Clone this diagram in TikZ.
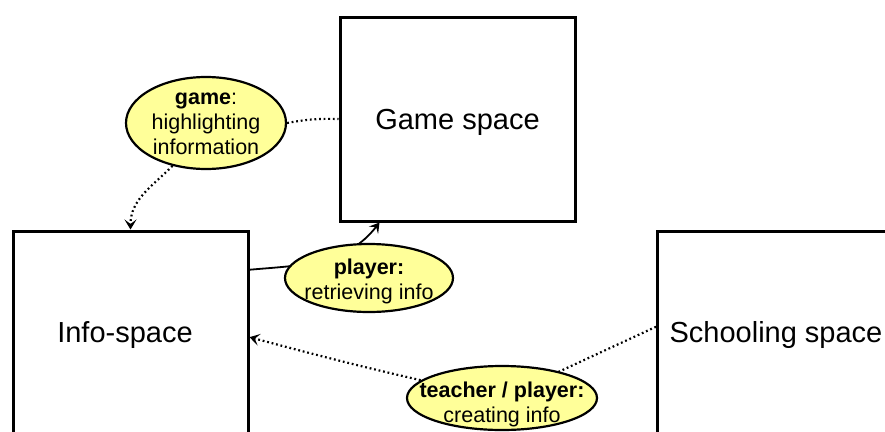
\documentclass[tikz,border=0pt]{standalone}
\usepackage{fontspec}
\setmainfont{Liberation Sans}
\usetikzlibrary{shapes.geometric,arrows.meta}
\definecolor{notefill}{HTML}{FFFF99}
\pgfdeclarelayer{background}
\pgfsetlayers{background,main}
\begin{document}
\begin{tikzpicture}[x=1pt,y=1pt,
  space/.style={draw, line width=3pt, minimum width=235pt, minimum height=204pt,
    inner sep=0pt, font=\fontsize{29}{34}\selectfont},
  spacetext/.style={inner sep=0pt, font=\fontsize{29}{34}\selectfont},
  note/.style={ellipse, draw, line width=2.2pt, fill=notefill, inner sep=0pt},
  notetext/.style={align=center, inner sep=0pt, font=\fontsize{21.5}{25}\selectfont},
  dots/.style={line width=2.2pt, dash pattern=on 1.8pt off 2.8pt},
  link/.style={line width=1.8pt},
  tip/.style={-{Stealth[length=10pt,width=12pt,inset=4.5pt]}}]
\useasboundingbox (0,0) rectangle (885,-431);
\clip (0,0) rectangle (885,-431);

% the three spaces
\node[space] (gs)   at (457.5,-119) {};
\node[spacetext] (gst) at (457.5,-122) {Game space};
\node[space] (info) at (130.5,-333) {};
\node[spacetext] (infot) at (125,-335) {Info-space};
\node[space] (sch)  at (775,-333)   {};
\node[spacetext] (scht) at (776,-335) {Schooling space};

% ellipses with their captions
\node[note, minimum width=160pt, minimum height=92pt] (g)  at (206,-123) {};
\node[notetext] (gt) at (206,-124) {\textbf{game}:\\highlighting\\information};
\node[note, minimum width=168pt, minimum height=68pt] (pl) at (369,-278) {};
\node[notetext] (plt) at (369,-281) {\textbf{player:}\\retrieving info};
\node[note, minimum width=190pt, minimum height=64pt] (tp) at (502,-398) {};
\node[notetext] (tpt) at (502,-404) {\textbf{teacher / player:}\\creating info};

% connectors, kept behind the ellipses
\begin{pgfonlayer}{background}
\draw[link, tip] (info.28) to[out=5, in=-128] (gs.-127);
\draw[dots, tip] (sch.177) -- (tp.center) to[out=168, in=-15] (info.-2);
\draw[dots] (g.east) to[bend left=6] (gs.west);
\draw[dots, tip] (g.-128) to[out=-135, in=90] (info.north);
\end{pgfonlayer}
\end{tikzpicture}
\end{document}
